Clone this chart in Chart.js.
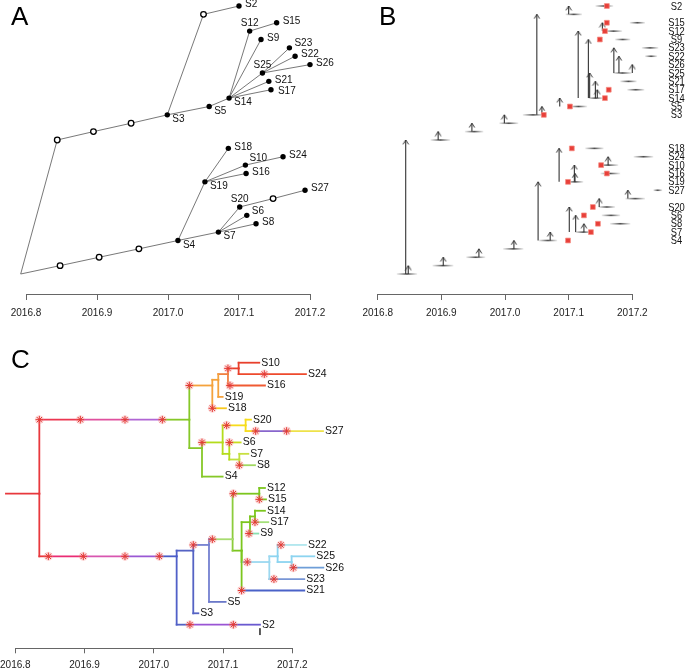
<!DOCTYPE html>
<html>
<head>
<meta charset="utf-8">
<script src="https://cdn.jsdelivr.net/npm/chart.js@4.4.0/dist/chart.umd.min.js"></script>
<style>
body { margin: 0; background: #fff; width: 685px; height: 669px; overflow: hidden; position: relative; font-family: "Liberation Sans", Arial, sans-serif; }
canvas { position: absolute; }
.tag { position: absolute; font-size: 26px; line-height: 26px; color: #000; }
</style>
</head>
<body>
<canvas id="chartA" width="340" height="320" style="left:0;top:0"></canvas>
<canvas id="chartB" width="345" height="320" style="left:340px;top:0"></canvas>
<canvas id="chartC" width="360" height="349" style="left:0;top:320px"></canvas>
<div class="tag" style="left:11px;top:3px">A</div>
<div class="tag" style="left:379px;top:3px">B</div>
<div class="tag" style="left:11px;top:346px">C</div>
<script>
// time axis
var xTicks = [2016.8, 2016.9, 2017.0, 2017.1, 2017.2];

// transmission tree (panels A and B), one host per row
var hostRow = [0, 1, 2, 3, 4, 5, 6, 7, 8, 9, 10, 11, 12, 13, 14, 15, 16, 17, 18, 19, 20, 21, 22, 23, 24, 25, 26, 27, 28, 29, 30, 31, 32];
var hostName = ['', '', '', '', 'S4', 'S7', 'S8', 'S6', 'S20', '', 'S27', 'S19', 'S16', 'S10', 'S24', 'S18',
    '', '', '', 'S3', 'S5', 'S14', 'S17', 'S21', 'S25', 'S26', 'S22', 'S23', 'S9', 'S12', 'S15', '', 'S2'];
var hostTime = [2016.7925, 2016.848, 2016.903, 2016.959, 2017.014, 2017.071, 2017.124, 2017.111, 2017.101, 2017.148,
    2017.193, 2017.052, 2017.110, 2017.109, 2017.162, 2017.085, 2016.844, 2016.895, 2016.948, 2016.999, 2017.058,
    2017.086, 2017.145, 2017.142, 2017.133, 2017.200, 2017.179, 2017.171, 2017.131, 2017.115, 2017.153, 2017.050, 2017.100];
var hostParent = [-1, 0, 1, 2, 3, 4, 5, 5, 5, 8, 9, 4, 11, 11, 13, 11, 0, 16, 17, 18, 19, 20, 21, 21, 21, 24, 24, 24, 21, 21, 29, 19, 31];

// sampling dates (red squares in B)
var sampleTime = [null, null, null, null, 2017.099, 2017.135, 2017.146, 2017.124, 2017.138, null, 2017.245, 2017.099,
    2017.160, 2017.151, 2017.220, 2017.105, null, null, null, 2017.061, 2017.102, 2017.157, 2017.163, 2017.215,
    2017.229, 2017.242, 2017.217, 2017.215, 2017.149, 2017.157, 2017.160, null, 2017.160];

// infection time intervals (grey strips in B)
var densFrom = [2016.830, 2016.886, 2016.939, 2016.997, 2017.053, 2017.110, 2017.165, 2017.152, 2017.147, 2017.189,
    2017.233, 2017.097, 2017.150, 2017.147, 2017.202, 2017.126, 2016.883, 2016.937, 2016.991, 2017.028, 2017.102,
    2017.131, 2017.192, 2017.181, 2017.170, null, 2017.220, 2017.215, 2017.173, 2017.157, 2017.196, 2017.095, 2017.142];
var densTo = [2016.862, 2016.919, 2016.969, 2017.029, 2017.082, 2017.136, 2017.197, 2017.181, 2017.173, 2017.220,
    2017.247, 2017.123, 2017.181, 2017.178, 2017.233, 2017.155, 2016.914, 2016.966, 2017.021, 2017.060, 2017.129,
    2017.154, 2017.219, 2017.207, 2017.199, null, 2017.239, 2017.241, 2017.197, 2017.184, 2017.220, 2017.121, 2017.170];

// phylogeny (panel C)
var cName = ['', '', '', '', '', '', '', 'S10', 'S24', 'S16', 'S19', 'S18', '', '', '', 'S20', 'S27', '', 'S6', '', 'S7', 'S8', 'S4',
    '', 'S2', '', 'S3', '', 'S5', '', '', 'S12', 'S15', '', '', '', 'S14', 'S17', 'S9', '', '', 'S22', '', 'S25', 'S26', 'S23', 'S21'];
var cTime = [2016.7865, 2016.8347, 2017.0513, 2017.0845, 2017.0931, 2017.1071, 2017.1225, 2017.1523, 2017.2197, 2017.1605,
    2017.0994, 2017.1042, 2017.0696, 2017.0994, 2017.1326, 2017.1403, 2017.2443, 2017.1090, 2017.1254, 2017.1235,
    2017.1365, 2017.1461, 2017.0994, 2017.0330, 2017.1533, 2017.0570, 2017.0643, 2017.0797, 2017.1037, 2017.1138,
    2017.1523, 2017.1605, 2017.1620, 2017.1268, 2017.1389, 2017.1461, 2017.1605, 2017.1653, 2017.1509, 2017.1668,
    2017.1788, 2017.2197, 2017.1990, 2017.2318, 2017.2448, 2017.2173, 2017.2173];
var cRow = [11.5, 11.5, 18, 21, 21.5, 22, 22.5, 23, 22, 21, 20, 19, 15.5, 16, 17.5, 18, 17, 15, 16, 14.5, 15, 14, 13,
    6, 0, 6.5, 1, 7, 2, 7.5, 11.5, 12, 11, 6.5, 9, 9.5, 10, 9, 8, 5.5, 6, 7, 5.5, 6, 5, 4, 3];
var cParent = [-1, 0, 1, 2, 3, 4, 5, 6, 6, 5, 4, 3, 2, 12, 13, 14, 14, 13, 17, 17, 19, 19, 12,
    1, 23, 23, 25, 25, 27, 27, 29, 30, 30, 29, 33, 34, 35, 35, 34, 33, 39, 40, 40, 42, 42, 39, 33];
var cColor = ['#e8383d', '#e8383d', '#86c828', '#f4a23c', '#f4a23c', '#f08040', '#e8402c', '#e8402c', '#ee4a2c', '#f05a32',
    '#f4a23c', '#f8c81c', '#86c828', '#b4dc1c', '#f6dc1c', '#f6dc1c', '#eee24a', '#b4dc1c', '#c8dc1c', '#c0e040',
    '#c8e040', '#a0d860', '#86c828', '#5060c8', '#6a5ad0', '#5563c4', '#5563c4', '#7480d0', '#6a78c8', '#8ccc3c',
    '#7cc61e', '#7cc61e', '#7cc61e', '#7cc61e', '#7cc61e', '#7cc61e', '#7cc61e', '#a4e07a', '#88e0b0', '#9cd8f0',
    '#8cd4f0', '#b0e6ee', '#8cd4f0', '#8cd4f0', '#6e9ed8', '#7896d6', '#4a62c8'];
// branches whose colour changes along the way: node index -> [start time, colour]
var cPieces = {
    2: [[2016.8347, '#ec3650'], [2016.8939, '#e0509e'], [2016.9584, '#b065d4'], [2017.0123, '#86c828']],
    23: [[2016.8347, '#e8383d'], [2016.8477, '#ea2c74'], [2016.8982, '#d856b0'], [2016.9584, '#9a58d4'], [2017.0079, '#4a5cc8']],
    24: [[2017.0330, '#5563c4'], [2017.0522, '#9a55d4'], [2017.1148, '#6a5ad0']],
    16: [[2017.1326, '#f6dc1c'], [2017.1471, '#8866cc'], [2017.1918, '#eee24a']],
    29: [[2017.0797, '#6a78c8'], [2017.0845, '#a8dc70']]
};
// transmission events marked on the phylogeny
var cStarTime = [2016.7865, 2016.8347, 2016.8939, 2016.9584, 2017.0123, 2017.0513, 2017.1071, 2017.1100, 2017.0845, 2017.1596,
    2017.0696, 2017.1052, 2017.1471, 2017.1918, 2017.1090, 2017.1235,
    2016.8477, 2016.8982, 2016.9584, 2017.0079, 2017.0522, 2017.1148, 2017.0570, 2017.0845, 2017.1148, 2017.1523,
    2017.1461, 2017.1374, 2017.1350, 2017.1836, 2017.2014, 2017.1735, 2017.1268];
var cStarRow = [11.5, 18, 18, 18, 18, 21, 22.5, 21, 19, 22, 16, 17.5, 17, 17, 16, 14,
    6, 6, 6, 6, 0, 0, 7, 7.5, 11.5, 11, 9, 8, 5.5, 7, 5, 4, 3];
var cMarkTime = [2017.1533, 2017.1533];
var cMarkRow = [-0.32, -0.91];

// label placement in A
var labelSideA = { S12: 'a', S25: 'a', S20: 'a', S10: 'ar', S23: 'ru', S6: 'ru', S17: 'rd',
    S14: 'br', S5: 'br', S3: 'br', S19: 'br', S7: 'br', S4: 'br' };

var fontFamily = '"Liberation Sans", Arial, sans-serif';
Chart.defaults.font.family = fontFamily;
Chart.defaults.animation = false;

function timeAxis(tickLen, pad, height) {
    return {
        type: 'linear', min: 2016.8, max: 2017.2,
        afterBuildTicks: function(s) { s.ticks = xTicks.map(function(v) { return { value: v }; }); },
        afterFit: function(s) { s.paddingLeft = 0; s.paddingRight = 0; s.height = height; },
        grid: { drawOnChartArea: false, drawTicks: true, tickLength: tickLen, color: '#666', lineWidth: 1 },
        border: { display: true, color: '#666', width: 1 },
        ticks: { padding: pad, color: '#222', font: { size: 10 }, maxRotation: 0,
            callback: function(v) { return v.toFixed(1); } }
    };
}

function segment(x0, y0, x1, y1, color, width) {
    return { data: [{ x: x0, y: y0 }, { x: x1, y: y1 }], showLine: true, borderColor: color, borderWidth: width,
        pointRadius: 0, clip: false, borderCapStyle: 'square' };
}

function baseOptions(pad, yMin, yMax, axis) {
    return {
        responsive: false, events: [],
        layout: { autoPadding: false, padding: pad },
        plugins: { legend: { display: false }, tooltip: { enabled: false } },
        scales: { x: axis, y: { type: 'linear', display: false, min: yMin, max: yMax } }
    };
}

// ---------- A ----------
function buildA() {
    var sets = [];
    var filled = [], open = [];
    for (let i = 0; i < hostRow.length; i++) {
        const pt = { x: hostTime[i], y: hostRow[i] };
        if (hostName[i]) filled.push(pt); else open.push(pt);
    }
    sets.push({ data: filled, pointRadius: 2.7, pointBackgroundColor: '#000', pointBorderColor: '#000', pointBorderWidth: 0, clip: false });
    sets.push({ data: open, pointRadius: 2.8, pointBackgroundColor: '#fff', pointBorderColor: '#000', pointBorderWidth: 1.3, clip: false });
    for (let i = 0; i < hostRow.length; i++) {
        const p = hostParent[i];
        if (p < 0) continue;
        const s = segment(hostTime[p], hostRow[p], hostTime[i], hostRow[i], '#555', 0.8);
        s.borderCapStyle = 'butt';
        sets.push(s);
    }
    var offs = { r: [6, -1.5, 'left'], ru: [5, -4.5, 'left'], rd: [7, 2, 'left'], br: [5, 4.5, 'left'],
        a: [0, -7.5, 'center'], ar: [4, -7, 'left'] };
    var labels = {
        id: 'labelsA',
        afterDatasetsDraw: function(chart) {
            var ctx = chart.ctx, xs = chart.scales.x, ys = chart.scales.y;
            ctx.save();
            ctx.font = '10px ' + fontFamily;
            ctx.fillStyle = '#111';
            ctx.textBaseline = 'middle';
            for (let i = 0; i < hostRow.length; i++) {
                if (!hostName[i]) continue;
                const o = offs[labelSideA[hostName[i]] || 'r'];
                ctx.textAlign = o[2];
                ctx.fillText(hostName[i], xs.getPixelForValue(hostTime[i]) + o[0], ys.getPixelForValue(hostRow[i]) + o[1]);
            }
            ctx.restore();
        }
    };
    new Chart(document.getElementById('chartA'), {
        type: 'scatter',
        data: { datasets: sets },
        options: baseOptions({ left: 26, right: 30, top: 0, bottom: 1 }, -2.388, 32.716, timeAxis(6, 7, 25)),
        plugins: [labels]
    });
}

// ---------- B ----------
function arrowHead() {
    var c = document.createElement('canvas');
    c.width = 8; c.height = 10;
    var g = c.getContext('2d');
    g.strokeStyle = '#333';
    g.lineWidth = 1;
    g.beginPath();
    g.moveTo(1.2, 9.4); g.lineTo(4, 5); g.lineTo(6.8, 9.4);
    g.stroke();
    return c;
}

function fadeLine(a, b) {
    return function(c) {
        var xs = c.chart.scales.x;
        var pa = xs ? xs.getPixelForValue(a) : NaN, pb = xs ? xs.getPixelForValue(b) : NaN;
        if (!isFinite(pa) || !isFinite(pb)) return 'rgba(70,70,70,0.6)';
        var gr = c.chart.ctx.createLinearGradient(pa, 0, pb, 0);
        gr.addColorStop(0, 'rgba(80,80,80,0.1)');
        gr.addColorStop(0.5, 'rgba(60,60,60,0.9)');
        gr.addColorStop(1, 'rgba(80,80,80,0.1)');
        return gr;
    };
}

function buildB() {
    var sets = [];
    var squares = [], heads = [];
    for (let i = 0; i < hostRow.length; i++) {
        if (sampleTime[i] !== null) squares.push({ x: sampleTime[i], y: hostRow[i] });
        if (hostParent[i] >= 0) heads.push({ x: hostTime[i], y: hostRow[i] });
    }
    sets.push({ data: squares, pointStyle: 'rect', pointRadius: 3.4, pointBackgroundColor: '#e8403a',
        pointBorderColor: 'rgba(245,140,130,0.9)', pointBorderWidth: 0.8, clip: false });
    sets.push({ data: heads, pointStyle: arrowHead(), pointRadius: 4, clip: false });
    for (let i = 0; i < hostRow.length; i++) {
        const p = hostParent[i];
        if (p < 0) continue;
        const s = segment(hostTime[i], hostRow[p], hostTime[i], hostRow[i], '#333', 1.1);
        s.borderCapStyle = 'butt';
        sets.push(s);
    }
    for (let i = 0; i < hostRow.length; i++) {
        if (densFrom[i] === null) continue;
        const s = segment(densFrom[i], hostRow[i], densTo[i], hostRow[i], '#555', 1.6);
        s.borderCapStyle = 'butt';
        s.borderColor = fadeLine(densFrom[i], densTo[i]);
        sets.push(s);
    }
    var labels = {
        id: 'labelsB',
        afterDatasetsDraw: function(chart) {
            var ctx = chart.ctx, ys = chart.scales.y;
            ctx.save();
            ctx.font = '11px ' + fontFamily;
            ctx.fillStyle = '#111';
            ctx.textBaseline = 'middle';
            ctx.textAlign = 'center';
            for (let i = 0; i < hostRow.length; i++) {
                if (!hostName[i]) continue;
                ctx.save();
                ctx.translate(336.5, ys.getPixelForValue(hostRow[i]) + 0.5);
                ctx.scale(0.85, 1);
                ctx.fillText(hostName[i], 0, 0);
                ctx.restore();
            }
            ctx.restore();
        }
    };
    new Chart(document.getElementById('chartB'), {
        type: 'scatter',
        data: { datasets: sets },
        options: baseOptions({ left: 37.7, right: 52.7, top: 0, bottom: 1 }, -2.388, 32.716, timeAxis(6, 7, 25)),
        plugins: [labels]
    });
}

// ---------- C ----------
function buildC() {
    var sets = [];
    var stars = cStarTime.map(function(t, k) { return { x: t, y: cStarRow[k] }; });
    sets.push({ data: stars, pointStyle: 'star', pointRadius: 3.8, pointBorderColor: '#e33a35', pointBorderWidth: 1, clip: false });
    sets.push({ data: stars, pointStyle: 'circle', pointRadius: 4.5, pointBackgroundColor: 'rgba(246,150,150,0.35)', pointBorderWidth: 0, clip: false });
    var mark = segment(cMarkTime[0], cMarkRow[0], cMarkTime[1], cMarkRow[1], '#444', 1);
    mark.borderCapStyle = 'butt';
    sets.push(mark);
    for (let i = 0; i < cName.length; i++) {
        const p = cParent[i];
        if (p < 0) continue;
        if (cRow[p] !== cRow[i]) sets.push(segment(cTime[p], cRow[p], cTime[p], cRow[i], cColor[p], 1.8));
        const pieces = cPieces[i] || [[cTime[p], cColor[i]]];
        for (let k = 0; k < pieces.length; k++) {
            const t1 = k + 1 < pieces.length ? pieces[k + 1][0] : cTime[i];
            sets.push(segment(pieces[k][0], cRow[i], t1, cRow[i], pieces[k][1], 1.8));
        }
    }
    var labels = {
        id: 'labelsC',
        afterDatasetsDraw: function(chart) {
            var ctx = chart.ctx, xs = chart.scales.x, ys = chart.scales.y;
            ctx.save();
            ctx.font = '10.5px ' + fontFamily;
            ctx.fillStyle = '#111';
            ctx.textBaseline = 'middle';
            ctx.textAlign = 'left';
            for (let i = 0; i < cName.length; i++) {
                if (!cName[i]) continue;
                ctx.fillText(cName[i], xs.getPixelForValue(cTime[i]) + 2, ys.getPixelForValue(cRow[i]));
            }
            ctx.restore();
        }
    };
    new Chart(document.getElementById('chartC'), {
        type: 'scatter',
        data: { datasets: sets },
        options: baseOptions({ left: 15.3, right: 67.7, top: 0, bottom: 0 }, -2.075, 26.75, timeAxis(5, 5.7, 20.7)),
        plugins: [labels]
    });
}

buildA();
buildB();
buildC();
</script>
</body>
</html>
